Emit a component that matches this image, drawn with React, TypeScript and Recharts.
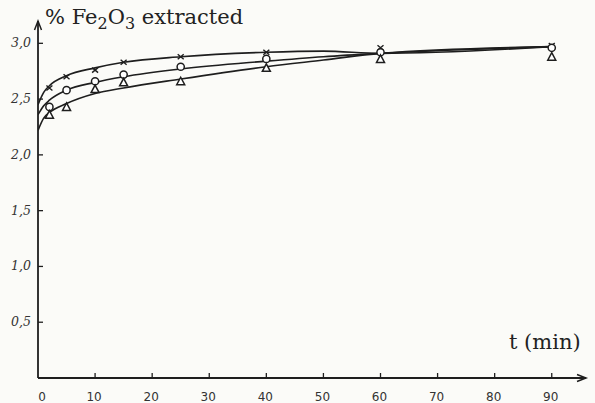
import React from 'react';
import { ComposedChart, Line, Scatter, XAxis, YAxis, ReferenceDot } from 'recharts';

// fitted curves
const curveT = [0, 1, 2, 5, 10, 15, 25, 40, 50, 60, 90];
const curveTop = [2.45, 2.56, 2.62, 2.71, 2.78, 2.83, 2.88, 2.92, 2.93, 2.91, 2.97];
const curveMid = [2.36, 2.44, 2.49, 2.58, 2.65, 2.7, 2.77, 2.84, 2.88, 2.91, 2.97];
const curveLow = [2.22, 2.33, 2.38, 2.46, 2.55, 2.6, 2.68, 2.79, 2.85, 2.91, 2.97];

// measured points
const pointT = [2, 5, 10, 15, 25, 40, 60, 90];
const crosses = [2.6, 2.7, 2.76, 2.83, 2.88, 2.92, 2.96, 2.98];
const circles = [2.43, 2.58, 2.66, 2.72, 2.79, 2.86, 2.92, 2.96];
const triangles = [2.36, 2.43, 2.59, 2.65, 2.66, 2.78, 2.86, 2.88];

const xTicks = [0, 10, 20, 30, 40, 50, 60, 70, 80, 90];
const yTicks = [0.5, 1, 1.5, 2, 2.5, 3];

const INK = '#1e1e1e';

const rows = (ts: number[], vs: number[]) => ts.map((t, i) => ({ t, v: vs[i] }));

const CrossDot = ({ cx, cy }: any) => (
  <path d={`M${cx - 3},${cy - 2.5}L${cx + 3},${cy + 2.5}M${cx + 3},${cy - 2.5}L${cx - 3},${cy + 2.5}`} stroke={INK} strokeWidth={1.4} fill="none" />
);
const CircleDot = ({ cx, cy }: any) => (
  <circle cx={cx} cy={cy} r={3.6} stroke={INK} strokeWidth={1.5} fill="#fff" />
);
const TriangleDot = ({ cx, cy }: any) => (
  <path d={`M${cx},${cy - 4}L${cx + 4},${cy + 3.5}L${cx - 4},${cy + 3.5}Z`} stroke={INK} strokeWidth={1.5} fill="#fff" />
);

const XTick = ({ x, y, payload }: any) => (
  <g>
    {payload.value !== 0 && <line x1={x} y1={y} x2={x} y2={y - 5} stroke={INK} strokeWidth={1.3} />}
    <text x={x + (payload.value === 0 ? 4 : -1)} y={y + 23} textAnchor="middle" fontSize={12} fontFamily="DejaVu Sans" fill="#333">
      {payload.value}
    </text>
  </g>
);

const YTick = ({ x, y, payload }: any) => (
  <g>
    <line x1={x} y1={y} x2={x + 5} y2={y} stroke={INK} strokeWidth={1.3} />
    <text x={x - 7} y={y + 4} textAnchor="end" fontSize={12.5} fontStyle="italic" fontFamily="DejaVu Serif" fill="#333">
      {payload.value.toFixed(1).replace('.', ',')}
    </text>
  </g>
);

const ArrowRight = ({ cx, cy }: any) => (
  <path d={`M${cx - 9},${cy - 3.5}L${cx},${cy}L${cx - 9},${cy + 3.5}`} stroke={INK} strokeWidth={1.5} fill="none" />
);
const ArrowUp = ({ cx, cy }: any) => (
  <path d={`M${cx - 3.5},${cy + 9}L${cx},${cy}L${cx + 3.5},${cy + 9}`} stroke={INK} strokeWidth={1.5} fill="none" />
);

export default function App() {
  return (
    <div style={{ position: 'absolute', left: 0, top: 0, width: 595, height: 403, background: '#fbfbf8' }}>
      <ComposedChart width={595} height={403} margin={{ top: 21, right: 9, bottom: 0, left: 8 }}>
        <XAxis
          dataKey="t"
          type="number"
          domain={[0, 96]}
          ticks={xTicks}
          tick={<XTick />}
          tickSize={0}
          tickMargin={0}
          height={25}
          axisLine={{ stroke: INK, strokeWidth: 1.8 }}
          allowDataOverflow
        />
        <YAxis
          type="number"
          domain={[0, 3.2]}
          ticks={yTicks}
          tick={<YTick />}
          tickSize={0}
          tickMargin={0}
          width={30}
          axisLine={{ stroke: INK, strokeWidth: 1.8 }}
          allowDataOverflow
        />

        <Line data={rows(curveT, curveTop)} dataKey="v" type="monotone" stroke={INK} strokeWidth={1.6} dot={false} isAnimationActive={false} />
        <Line data={rows(curveT, curveMid)} dataKey="v" type="monotone" stroke={INK} strokeWidth={1.6} dot={false} isAnimationActive={false} />
        <Line data={rows(curveT, curveLow)} dataKey="v" type="monotone" stroke={INK} strokeWidth={1.6} dot={false} isAnimationActive={false} />

        <Scatter data={rows(pointT, crosses)} dataKey="v" shape={CrossDot} isAnimationActive={false} />
        <Scatter data={rows(pointT, circles)} dataKey="v" shape={CircleDot} isAnimationActive={false} />
        <Scatter data={rows(pointT, triangles)} dataKey="v" shape={TriangleDot} isAnimationActive={false} />

        <ReferenceDot x={96} y={0} ifOverflow="visible" shape={ArrowRight} />
        <ReferenceDot x={0} y={3.2} ifOverflow="visible" shape={ArrowUp} />
      </ComposedChart>

      <div style={{ position: 'absolute', left: 45, top: 5, fontFamily: 'DejaVu Serif', fontSize: 21, color: '#222', whiteSpace: 'nowrap' }}>
        % Fe<sub style={{ fontSize: 16 }}>2</sub>O<sub style={{ fontSize: 16 }}>3</sub> extracted
      </div>
      <div style={{ position: 'absolute', left: 509, top: 330, fontFamily: 'DejaVu Serif', fontSize: 21, color: '#222', whiteSpace: 'nowrap' }}>
        t (min)
      </div>
    </div>
  );
}
